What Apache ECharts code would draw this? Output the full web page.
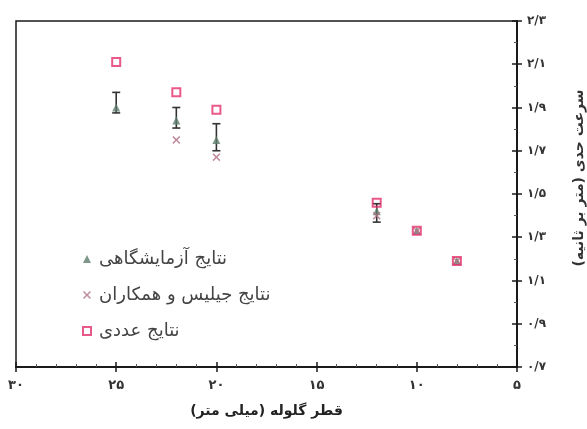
<!DOCTYPE html>
<html>
<head>
<meta charset="utf-8">
<script src="https://cdn.jsdelivr.net/npm/echarts@6/dist/echarts.min.js"></script>
<style>html,body{margin:0;padding:0;background:#fff;overflow:hidden}#c{width:587px;height:429px}</style>
</head>
<body>
<div id="c"></div>
<script>
// ---- data ----
var diameters = [25, 22, 20, 12, 10, 8];
var numericVals = [2.11, 1.97, 1.89, 1.46, 1.33, 1.19];
var expVals = [1.90, 1.84, 1.75, 1.42, 1.33, 1.19];
var expLow = [1.875, 1.805, 1.70, 1.37, 1.33, 1.19];
var expHigh = [1.97, 1.90, 1.825, 1.455, 1.33, 1.19];
var gillisX = [22, 20, 12, 10, 8];
var gillisVals = [1.75, 1.67, 1.40, 1.33, 1.19];
var xTicks = [5, 10, 15, 20, 25, 30];
var xTickLabels = ['۵', '۱۰', '۱۵', '۲۰', '۲۵', '۳۰'];
var yTicks = [0.7, 0.9, 1.1, 1.3, 1.5, 1.7, 1.9, 2.1, 2.3];
var yTickLabels = ['۰/۷', '۰/۹', '۱/۱', '۱/۳', '۱/۵', '۱/۷', '۱/۹', '۲/۱', '۲/۳'];
var seriesNames = ['نتایج آزمایشگاهی', 'نتایج جیلیس و همکاران', 'نتایج عددی'];
var xName = 'قطر گلوله (میلی متر)';
var yName = 'سرعت حدی (متر بر ثانیه)';

var FONT = 'DejaVu Sans';
function xFmt(v) { var i = xTicks.indexOf(Math.round(v)); return i >= 0 ? xTickLabels[i] : ''; }
function yFmt(v) {
  for (var i = 0; i < yTicks.length; i++) if (Math.abs(yTicks[i] - v) < 1e-6) return yTickLabels[i];
  return '';
}
function zip(a, b) { return a.map(function (v, i) { return [v, b[i]]; }); }

var xSymbol = 'path://M1.4,0L5,3.6L8.6,0L10,1.4L6.4,5L10,8.6L8.6,10L5,6.4L1.4,10L0,8.6L3.6,5L0,1.4z';

var chart = echarts.init(document.getElementById('c'), null, {renderer: 'canvas'});
var lineStyle = {color: '#1a1a1a', width: 2};
chart.setOption({
  backgroundColor: '#fff',
  animation: false,
  textStyle: {fontFamily: FONT},
  grid: {left: 16, right: 70, top: 21, bottom: 62, outerBoundsMode: 'none', containLabel: false,
    show: true, borderColor: '#1a1a1a', borderWidth: 1.5, backgroundColor: 'transparent'},
  legend: {
    orient: 'vertical', left: 77, top: 245, itemGap: 18, itemWidth: 8, itemHeight: 8,
    data: seriesNames,
    textStyle: {fontFamily: FONT, fontSize: 18, color: '#444', lineHeight: 15, padding: [0, 0, 0, 3]}
  },
  xAxis: [{
    type: 'value', inverse: true, min: 5, max: 30, interval: 5, position: 'bottom',
    axisLine: {show: true, onZero: false, lineStyle: lineStyle},
    axisTick: {show: true, inside: true, length: 5, lineStyle: {color: '#1a1a1a', width: 1.5}},
    minorTick: {show: true, splitNumber: 5, length: 3, lineStyle: {color: '#555', width: 1}},
    splitLine: {show: false},
    axisLabel: {formatter: xFmt, margin: 12, fontSize: 13, color: '#333', fontWeight: 'bold', fontFamily: FONT},
    name: xName, nameLocation: 'middle', nameGap: 37,
    nameTextStyle: {fontSize: 14, fontWeight: 'bold', color: '#222', fontFamily: FONT}
  }, {
    type: 'value', inverse: true, min: 5, max: 30, interval: 5, position: 'bottom',
    axisLine: {show: false, onZero: false},
    axisTick: {show: true, inside: false, length: 5, lineStyle: {color: '#1a1a1a', width: 1.5}},
    splitLine: {show: false}, axisLabel: {show: false}
  }],
  yAxis: [{
    type: 'value', min: 0.7, max: 2.3, interval: 0.2, position: 'right',
    axisLine: {show: true, onZero: false, lineStyle: lineStyle},
    axisTick: {show: true, inside: true, length: 5, lineStyle: {color: '#1a1a1a', width: 1.5}},
    minorTick: {show: true, splitNumber: 2, length: 3, lineStyle: {color: '#555', width: 1}},
    splitLine: {show: false},
    axisLabel: {formatter: yFmt, margin: 10, fontSize: 12, color: '#333', fontWeight: 'bold', fontFamily: FONT},
    name: yName, nameLocation: 'middle', nameGap: 55, nameRotate: 90,
    nameTextStyle: {fontSize: 14, fontWeight: 'bold', color: '#333', fontFamily: FONT, padding: [0, 0, 0, 32]}
  }, {
    type: 'value', min: 0.7, max: 2.3, interval: 0.2, position: 'right',
    axisLine: {show: false, onZero: false},
    axisTick: {show: true, inside: false, length: 5, lineStyle: {color: '#1a1a1a', width: 1.5}},
    splitLine: {show: false}, axisLabel: {show: false}
  }],
  series: [{
    type: 'custom', name: 'err', xAxisIndex: 0, yAxisIndex: 0,
    data: diameters.map(function (d, i) { return [d, expLow[i], expHigh[i]]; }),
    encode: {x: 0, y: [1, 2]},
    renderItem: function (params, api) {
      var lo = api.coord([api.value(0), api.value(1)]);
      var hi = api.coord([api.value(0), api.value(2)]);
      if (Math.abs(lo[1] - hi[1]) < 2) return null;
      var w = 4;
      var st = {stroke: '#333', lineWidth: 1.6};
      return {type: 'group', children: [
        {type: 'line', shape: {x1: lo[0], y1: lo[1], x2: hi[0], y2: hi[1]}, style: st},
        {type: 'line', shape: {x1: lo[0] - w, y1: lo[1], x2: lo[0] + w, y2: lo[1]}, style: st},
        {type: 'line', shape: {x1: hi[0] - w, y1: hi[1], x2: hi[0] + w, y2: hi[1]}, style: st}
      ]};
    },
    z: 2
  }, {
    type: 'scatter', name: seriesNames[0], data: zip(diameters, expVals),
    symbol: 'triangle', symbolSize: 8,
    itemStyle: {color: '#5e7d6d'}, z: 3
  }, {
    type: 'scatter', name: seriesNames[1], data: zip(gillisX, gillisVals),
    symbol: xSymbol, symbolSize: 8,
    itemStyle: {color: '#b07283'}, z: 3
  }, {
    type: 'scatter', name: seriesNames[2], data: zip(diameters, numericVals),
    symbol: 'rect', symbolSize: 8,
    itemStyle: {color: 'rgba(255,255,255,0)', borderColor: '#e3306a', borderWidth: 2}, z: 4
  }]
});
</script>
</body>
</html>
